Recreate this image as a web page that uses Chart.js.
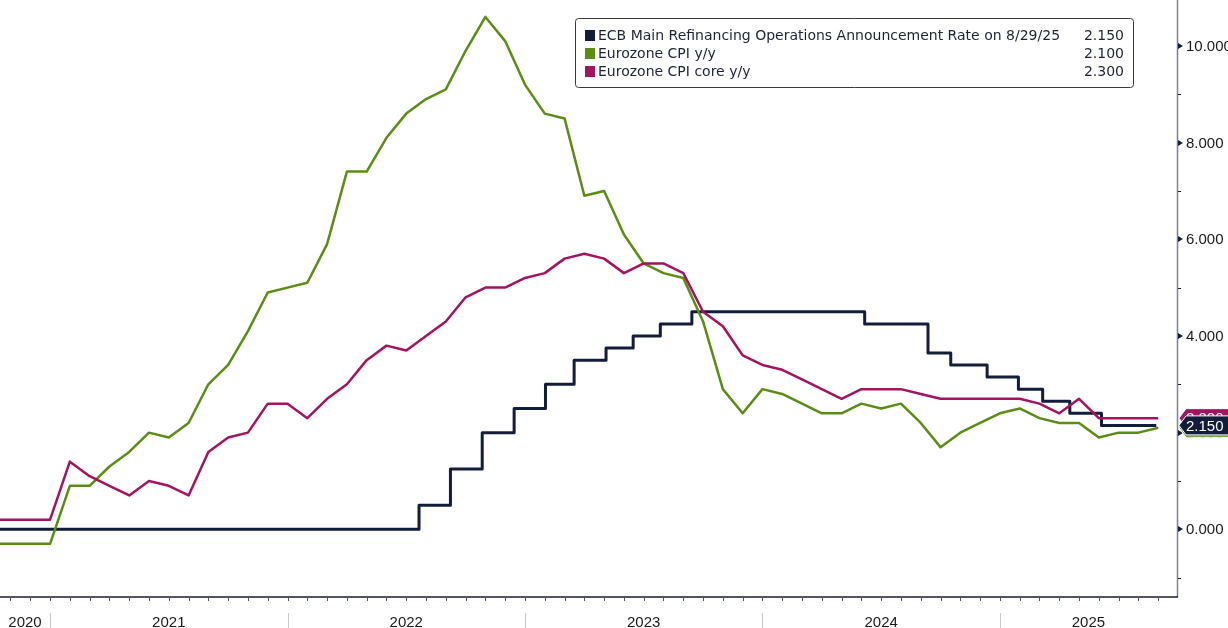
<!DOCTYPE html>
<html>
<head>
<meta charset="utf-8">
<script src="https://cdn.jsdelivr.net/npm/chart.js@4"></script>
<style>
  html, body { margin: 0; padding: 0; background: #fff; }
  #wrap { width: 1228px; height: 628px; }
</style>
</head>
<body>
<div id="wrap"><canvas id="grafico"></canvas></div>
<script>
// Meses das series de inflacao (valor mensal, marcado no fim do mes)
var meses = [
  '2020-09','2020-10','2020-11','2020-12',
  '2021-01','2021-02','2021-03','2021-04','2021-05','2021-06','2021-07','2021-08','2021-09','2021-10','2021-11','2021-12',
  '2022-01','2022-02','2022-03','2022-04','2022-05','2022-06','2022-07','2022-08','2022-09','2022-10','2022-11','2022-12',
  '2023-01','2023-02','2023-03','2023-04','2023-05','2023-06','2023-07','2023-08','2023-09','2023-10','2023-11','2023-12',
  '2024-01','2024-02','2024-03','2024-04','2024-05','2024-06','2024-07','2024-08','2024-09','2024-10','2024-11','2024-12',
  '2025-01','2025-02','2025-03','2025-04','2025-05','2025-06','2025-07','2025-08'
];
var cpi = [
  -0.3, -0.3, -0.3, -0.3,
  0.9, 0.9, 1.3, 1.6, 2.0, 1.9, 2.2, 3.0, 3.4, 4.1, 4.9, 5.0,
  5.1, 5.9, 7.4, 7.4, 8.1, 8.6, 8.9, 9.1, 9.9, 10.6, 10.1, 9.2,
  8.6, 8.5, 6.9, 7.0, 6.1, 5.5, 5.3, 5.2, 4.3, 2.9, 2.4, 2.9,
  2.8, 2.6, 2.4, 2.4, 2.6, 2.5, 2.6, 2.2, 1.7, 2.0, 2.2, 2.4,
  2.5, 2.3, 2.2, 2.2, 1.9, 2.0, 2.0, 2.1
];
var cpiCore = [
  0.2, 0.2, 0.2, 0.2,
  1.4, 1.1, 0.9, 0.7, 1.0, 0.9, 0.7, 1.6, 1.9, 2.0, 2.6, 2.6,
  2.3, 2.7, 3.0, 3.5, 3.8, 3.7, 4.0, 4.3, 4.8, 5.0, 5.0, 5.2,
  5.3, 5.6, 5.7, 5.6, 5.3, 5.5, 5.5, 5.3, 4.5, 4.2, 3.6, 3.4,
  3.3, 3.1, 2.9, 2.7, 2.9, 2.9, 2.9, 2.8, 2.7, 2.7, 2.7, 2.7,
  2.7, 2.6, 2.4, 2.7, 2.3, 2.3, 2.3, 2.3
];

// Taxa do BCE: datas dos anuncios e nova taxa
var datasBce = [
  '2020-09-01','2022-07-21','2022-09-08','2022-10-27','2022-12-15','2023-02-02','2023-03-16',
  '2023-05-04','2023-06-15','2023-07-27','2023-09-14','2024-06-06','2024-09-12','2024-10-17',
  '2024-12-12','2025-01-30','2025-03-06','2025-04-17','2025-06-05','2025-08-29'
];
var taxaBce = [0, 0.5, 1.25, 2.0, 2.5, 3.0, 3.5, 3.75, 4.0, 4.25, 4.5, 4.25, 3.65, 3.4, 3.15, 2.9, 2.65, 2.4, 2.15, 2.15];

var anos = [2020, 2021, 2022, 2023, 2024, 2025];
var ticksY = [0, 2, 4, 6, 8, 10];

var nomes = [
  'ECB Main Refinancing Operations Announcement Rate on 8/29/25',
  'Eurozone CPI y/y',
  'Eurozone CPI core y/y'
];
var ultimos = [2.15, 2.1, 2.3];
var cores = ['#141c3c', '#5b8c14', '#a3135f'];

// meses desde 1/1/2021
function posDia(s) {
  var p = s.split('-').map(Number);
  var dias = new Date(p[0], p[1], 0).getDate();
  return (p[0] - 2021) * 12 + (p[1] - 1) + (p[2] - 1) / dias;
}
function posFimMes(s) {
  var p = s.split('-').map(Number);
  return (p[0] - 2021) * 12 + p[1];
}

var pontosCpi = meses.map(function (m, i) { return { x: posFimMes(m), y: cpi[i] }; });
var pontosCore = meses.map(function (m, i) { return { x: posFimMes(m), y: cpiCore[i] }; });
var pontosBce = datasBce.map(function (d, i) { return { x: posDia(d), y: taxaBce[i] }; });

var FONTE = '"Liberation Sans", Arial, sans-serif';
var FONTE_LEG = '"DejaVu Sans", sans-serif';

// Desenha eixos, legenda e etiquetas de valor
var enfeites = {
  id: 'enfeites',
  afterDraw: function (chart) {
    var ctx = chart.ctx;
    var xs = chart.scales.x, ys = chart.scales.y;
    var a = chart.chartArea;
    ctx.save();

    // eixo y (direita)
    ctx.strokeStyle = '#7c8099';
    ctx.lineWidth = 1.5;
    ctx.beginPath();
    ctx.moveTo(a.right + 0.5, 0);
    ctx.lineTo(a.right + 0.5, a.bottom);
    ctx.stroke();
    ctx.fillStyle = '#141c3c';
    ctx.strokeStyle = '#141c3c';
    ctx.lineWidth = 1;
    for (var v = -1; v <= 10; v++) {
      var py = Math.round(ys.getPixelForValue(v));
      if (v % 2 === 0) {
        ctx.beginPath();
        ctx.moveTo(a.right + 1, py - 3);
        ctx.lineTo(a.right + 6, py);
        ctx.lineTo(a.right + 1, py + 3);
        ctx.closePath();
        ctx.fill();
      } else {
        ctx.beginPath();
        ctx.moveTo(a.right + 1, py + 0.5);
        ctx.lineTo(a.right + 4, py + 0.5);
        ctx.stroke();
      }
    }
    ctx.fillStyle = '#1a1a1a';
    ctx.font = '15px ' + FONTE;
    ctx.textAlign = 'left';
    ctx.textBaseline = 'middle';
    ticksY.forEach(function (t) {
      ctx.fillText(t.toFixed(3), a.right + 9, ys.getPixelForValue(t) + 1);
    });

    // eixo x (baixo)
    ctx.strokeStyle = '#141c3c';
    ctx.lineWidth = 1.5;
    ctx.beginPath();
    ctx.moveTo(0, a.bottom);
    ctx.lineTo(a.right + 1, a.bottom);
    ctx.stroke();
    ctx.lineWidth = 1;
    ctx.strokeStyle = '#555';
    for (var m = Math.ceil(xs.min); m <= xs.max; m++) {
      var px = Math.round(xs.getPixelForValue(m)) + 0.5;
      ctx.beginPath();
      ctx.moveTo(px, a.bottom);
      ctx.lineTo(px, a.bottom + 4);
      ctx.stroke();
    }
    ctx.strokeStyle = '#c8c8c8';
    ctx.fillStyle = '#1a1a1a';
    ctx.textAlign = 'center';
    anos.forEach(function (ano) {
      var ini = (ano - 2021) * 12, fim = ini + 12;
      var pIni = Math.max(a.left, xs.getPixelForValue(ini));
      var pFim = Math.min(a.right, xs.getPixelForValue(fim));
      if (ini > xs.min) {
        var pd = Math.round(xs.getPixelForValue(ini)) + 0.5;
        ctx.beginPath();
        ctx.moveTo(pd, a.bottom + 16);
        ctx.lineTo(pd, chart.height);
        ctx.stroke();
      }
      ctx.fillText(String(ano), (pIni + pFim) / 2, a.bottom + 26);
    });

    // legenda
    var lx = 575.5, ly = 18.5, lw = 558, lh = 69;
    ctx.fillStyle = '#fff';
    ctx.strokeStyle = '#3a3a3a';
    ctx.lineWidth = 1;
    ctx.beginPath();
    ctx.roundRect(lx, ly, lw, lh, 3);
    ctx.fill();
    ctx.stroke();
    ctx.font = '14px ' + FONTE_LEG;
    ctx.textBaseline = 'middle';
    nomes.forEach(function (n, i) {
      var cy = 35 + i * 18;
      ctx.fillStyle = cores[i];
      ctx.fillRect(585, cy - 5, 10, 11);
      ctx.fillStyle = '#1e2233';
      ctx.textAlign = 'left';
      ctx.fillText(n, 598, cy + 1);
      ctx.textAlign = 'right';
      ctx.fillText(ultimos[i].toFixed(3), 1124, cy + 1);
    });

    // etiquetas de ultimo valor (verde, rosa, azul por cima)
    [1, 2, 0].forEach(function (i) {
      var cy = ys.getPixelForValue(ultimos[i]);
      var x0 = a.right + 2, h = 19;
      ctx.fillStyle = cores[i];
      ctx.strokeStyle = '#fff';
      ctx.lineWidth = 1;
      ctx.beginPath();
      ctx.moveTo(x0, cy);
      ctx.lineTo(x0 + 7, cy - h / 2);
      ctx.lineTo(chart.width + 2, cy - h / 2);
      ctx.lineTo(chart.width + 2, cy + h / 2);
      ctx.lineTo(x0 + 7, cy + h / 2);
      ctx.closePath();
      ctx.fill();
      ctx.stroke();
      ctx.fillStyle = '#fff';
      ctx.font = '15px ' + FONTE;
      ctx.textAlign = 'left';
      ctx.fillText(ultimos[i].toFixed(3), x0 + 7, cy + 1);
    });
    ctx.restore();
  }
};

var ctx = document.getElementById('grafico').getContext('2d');
var meuGrafico = new Chart(ctx, {
  type: 'line',
  data: {
    datasets: [
      { label: nomes[0], data: pontosBce, borderColor: cores[0], borderWidth: 3, stepped: 'before', order: 3 },
      { label: nomes[1], data: pontosCpi, borderColor: cores[1], borderWidth: 2.5, order: 2 },
      { label: nomes[2], data: pontosCore, borderColor: cores[2], borderWidth: 2.5, order: 1 }
    ]
  },
  options: {
    responsive: true,
    maintainAspectRatio: false,
    animation: false,
    devicePixelRatio: 1,
    layout: { padding: 0 },
    elements: { point: { radius: 0 }, line: { tension: 0, borderJoinStyle: 'round' } },
    plugins: { legend: { display: false }, tooltip: { enabled: false } },
    scales: {
      x: {
        type: 'linear',
        min: -2.53,
        max: 56.95,
        grid: { display: false, drawTicks: false },
        border: { display: false },
        ticks: { display: false },
        afterFit: function (s) { s.height = 31; }
      },
      y: {
        position: 'right',
        min: -1.4,
        max: 10.95,
        grid: { display: false, drawTicks: false },
        border: { display: false },
        ticks: { display: false },
        afterFit: function (s) { s.width = 51; }
      }
    }
  },
  plugins: [enfeites]
});
</script>
</body>
</html>
